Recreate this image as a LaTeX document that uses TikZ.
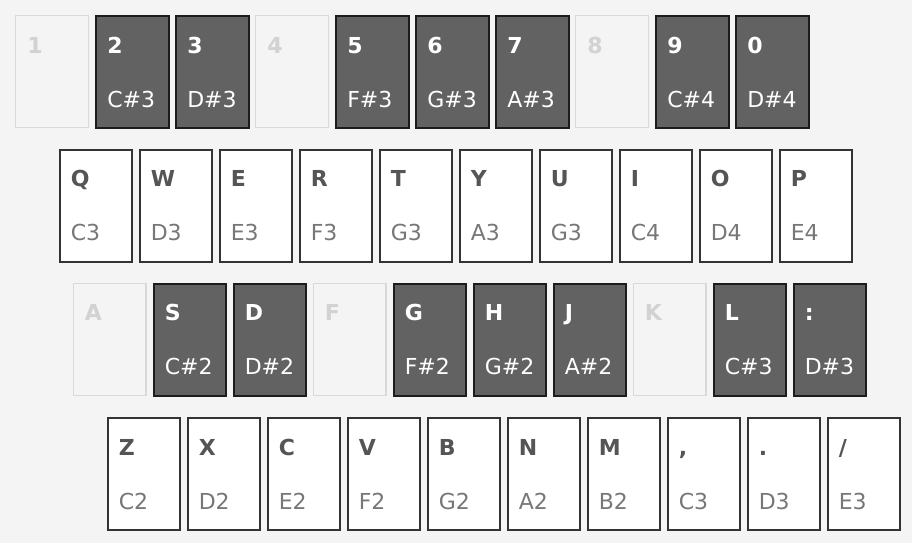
\documentclass[tikz,border=0pt]{standalone}
\usepackage{fontspec}
\setmainfont{DejaVu Sans}
\definecolor{pagebg}{HTML}{F4F4F4}
% colours of the three kinds of key: F fill, D border, T key letter, N note
\definecolor{keydeadF}{HTML}{F4F4F4}
\definecolor{keydeadD}{HTML}{D9D9D9}
\definecolor{keydeadT}{HTML}{D2D2D2}
\definecolor{keydeadN}{HTML}{D2D2D2}
\definecolor{keydarkF}{HTML}{626262}
\definecolor{keydarkD}{HTML}{1C1C1C}
\definecolor{keydarkT}{HTML}{FFFFFF}
\definecolor{keydarkN}{HTML}{FFFFFF}
\definecolor{keyliteF}{HTML}{FFFFFF}
\definecolor{keyliteD}{HTML}{333333}
\definecolor{keyliteT}{HTML}{555555}
\definecolor{keyliteN}{HTML}{777777}
\tikzset{
  key/.style={rectangle,anchor=north west,inner sep=0pt,
    minimum width=54.4pt,minimum height=84pt},
  keydead/.style={draw=keydeadD,fill=keydeadF,line width=1.1pt},
  keydark/.style={draw=keydarkD,fill=keydarkF,line width=1.5pt},
  keylite/.style={draw=keyliteD,fill=keyliteF,line width=1.5pt},
  keyname/.style={anchor=base west,inner sep=0pt,
    font=\fontsize{16.5pt}{18pt}\selectfont\bfseries},
  keynote/.style={anchor=base west,inner sep=0pt,
    font=\fontsize{16.5pt}{18pt}\selectfont},
}

\begin{document}
\begin{tikzpicture}[x=0.75pt,y=-0.75pt]
\useasboundingbox[fill=white] (0,0) rectangle (916,546);
\fill[pagebg] (0,0) rectangle (912,543);
% number row
\foreach \k/\n/\t [count=\i from 0] in {1//keydead,2/C\#3/keydark,3/D\#3/keydark,4//keydead,
    5/F\#3/keydark,6/G\#3/keydark,7/A\#3/keydark,8//keydead,9/C\#4/keydark,0/D\#4/keydark}{
  \node[key,\t] (n\i) at (15+80*\i,15) {};
  \node[keyname,text=\t T] (n\i name) at ([shift={(12,38)}]n\i.north west) {\k};
  \node[keynote,text=\t N] (n\i note) at ([shift={(12,92)}]n\i.north west) {\n};
}
% upper letter row
\foreach \k/\n/\t [count=\i from 0] in {Q/C3/keylite,W/D3/keylite,E/E3/keylite,R/F3/keylite,
    T/G3/keylite,Y/A3/keylite,U/G3/keylite,I/C4/keylite,O/D4/keylite,P/E4/keylite}{
  \node[key,\t] (q\i) at (58.5+80*\i,148.5) {};
  \node[keyname,text=\t T] (q\i name) at ([shift={(12,38)}]q\i.north west) {\k};
  \node[keynote,text=\t N] (q\i note) at ([shift={(12,92)}]q\i.north west) {\n};
}
% home row
\foreach \k/\n/\t [count=\i from 0] in {A//keydead,S/C\#2/keydark,D/D\#2/keydark,F//keydead,
    G/F\#2/keydark,H/G\#2/keydark,J/A\#2/keydark,K//keydead,L/C\#3/keydark,:/D\#3/keydark}{
  \node[key,\t] (a\i) at (72.5+80*\i,282.5) {};
  \node[keyname,text=\t T] (a\i name) at ([shift={(12,38)}]a\i.north west) {\k};
  \node[keynote,text=\t N] (a\i note) at ([shift={(12,92)}]a\i.north west) {\n};
}
% lower letter row
\foreach \k/\n/\t [count=\i from 0] in {Z/C2/keylite,X/D2/keylite,C/E2/keylite,V/F2/keylite,
    B/G2/keylite,N/A2/keylite,M/B2/keylite,{,}/C3/keylite,./D3/keylite,{/}/E3/keylite}{
  \node[key,\t] (z\i) at (106.5+80*\i,417) {};
  \node[keyname,text=\t T] (z\i name) at ([shift={(12,38)}]z\i.north west) {\k};
  \node[keynote,text=\t N] (z\i note) at ([shift={(12,92)}]z\i.north west) {\n};
}
\end{tikzpicture}
\end{document}
